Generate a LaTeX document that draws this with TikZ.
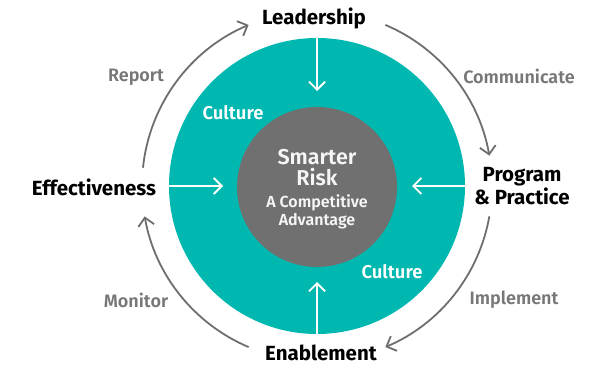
\documentclass[tikz,border=0pt]{standalone}
\usepackage{fontspec}
\setmainfont{Fira Sans}
\newfontfamily\semib{Fira Sans SemiBold}
\usetikzlibrary{arrows.meta,calc}
\definecolor{tealc}{HTML}{00B8B0}
\definecolor{grayc}{HTML}{707070}
\definecolor{arcc}{HTML}{6E6E6E}
\definecolor{lblc}{HTML}{777777}
\tikzset{
  mainlbl/.style={font=\fontsize{20.5}{21}\selectfont\bfseries, text=black, align=center, inner sep=0pt},
  steplbl/.style={font=\fontsize{18}{19}\selectfont\semib, text=lblc, inner sep=0pt},
  culturelbl/.style={font=\fontsize{18.5}{19}\selectfont\semib, text=white, inner sep=0pt},
  inarrow/.style={draw=white, line width=1.8pt, -{Straight Barb[length=8pt,width=16pt,line width=1.8pt]}},
  outarc/.style={draw=arcc, line width=1.8pt, -{Straight Barb[length=8pt,width=16pt,line width=1.8pt]}},
}
\begin{document}
\begin{tikzpicture}[x=1pt,y=1pt]
\useasboundingbox (0,0) rectangle (602,367);
\coordinate (c) at (317,181);
\node[circle, fill=tealc, minimum size=296pt, inner sep=0pt, outer sep=0pt] (teal) at (c) {};
\node[circle, fill=grayc, minimum size=160pt, inner sep=0pt, outer sep=0pt] (core) at (317,180) {};
% centre text
\node[font=\fontsize{21.5}{21}\selectfont\semib, text=white!93!gray, align=center, inner sep=0pt] (smart) at (317,199.5) {Smarter\\Risk};
\node[font=\fontsize{16}{18}\selectfont\semib, text=white!93!gray, align=center, inner sep=0pt] (adv) at (317,155) {A Competitive\\Advantage};
% culture labels
\node[culturelbl] (cult1) at (233,254) {Culture};
\node[culturelbl] (cult2) at (392,95) {Culture};
% main labels
\node[mainlbl] (lead) at (314,349) {Leadership};
\node[mainlbl] (eff) at (94,180) {Effectiveness};
\node[mainlbl] (prog) at (522,181) {Program\\\& Practice};
\node[mainlbl] (enab) at (321,14) {Enablement};
% step labels
\node[steplbl] (rep) at (136,290) {Report};
\node[steplbl] (comm) at (519,291) {Communicate};
\node[steplbl] (impl) at (514,67) {Implement};
\node[steplbl] (mon) at (136,67) {Monitor};
% inward arrows
\draw[inarrow] (teal.north) -- ++(0,-53);
\draw[inarrow] (teal.south) -- ++(0,52);
\draw[inarrow] (teal.west) -- ++(54,0);
\draw[inarrow] (teal.east) -- ++(-53,0);
% outer arcs
\coordinate (r0) at ($(c)+(174:175pt)$);
\coordinate (c0) at ($(c)+(67:175pt)$);
\coordinate (i0) at ($(c)+(-10:175pt)$);
\coordinate (m0) at ($(c)+(-113:175pt)$);
\draw[outarc] (r0) arc[start angle=174, end angle=113, radius=175pt];
\draw[outarc] (c0) arc[start angle=67, end angle=10, radius=175pt];
\draw[outarc] (i0) arc[start angle=-10, end angle=-67, radius=175pt];
\draw[outarc] (m0) arc[start angle=-113, end angle=-170, radius=175pt];
\end{tikzpicture}
\end{document}
